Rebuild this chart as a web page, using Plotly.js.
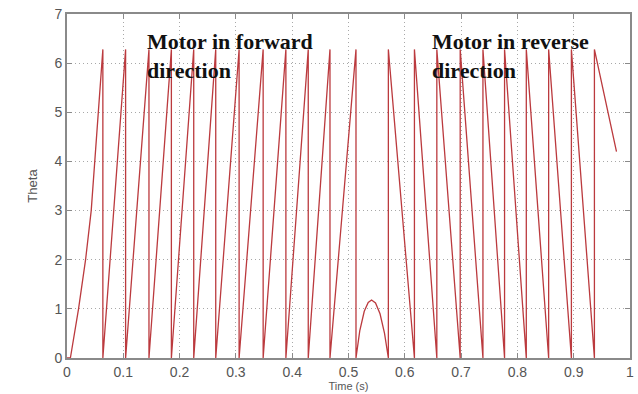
<!DOCTYPE html>
<html>
<head>
<meta charset="utf-8">
<script src="https://cdn.plot.ly/plotly-3.0.1.min.js"></script>
<style>html,body{margin:0;padding:0;background:#fff;}#chart{width:638px;height:394px;}</style>
</head>
<body>
<div id="chart"></div>
<script>
// Time (s) and rotor angle Theta (rad)
var timeS = [
  0, 0.006, 0.0205, 0.033, 0.043, 0.0637, 0.0637,
  0.1041, 0.1041,
  0.1456, 0.1456,
  0.1854, 0.1854,
  0.2251, 0.2251,
  0.2642, 0.2642,
  0.3057, 0.3057,
  0.3484, 0.3484,
  0.3888, 0.3888,
  0.4285, 0.4285,
  0.4671, 0.4671,
  0.5133, 0.5133,
  0.520, 0.528, 0.535, 0.541, 0.548, 0.556, 0.564, 0.5708,
  0.5708, 0.6171,
  0.6171, 0.6569,
  0.6569, 0.6984,
  0.6984, 0.7388,
  0.7388, 0.7772,
  0.7772, 0.8158,
  0.8158, 0.8555,
  0.8555, 0.8959,
  0.8959, 0.9368,
  0.9368, 0.9760,
  0.9760, 0.9885
];
var theta = [
  0, 0, 1, 2, 3, 6.28, 0,
  6.28, 0,
  6.28, 0,
  6.28, 0,
  6.28, 0,
  6.28, 0,
  6.28, 0,
  6.28, 0,
  6.28, 0,
  6.28, 0,
  6.28, 0,
  6.28, 0,
  0.55, 0.95, 1.13, 1.18, 1.12, 0.9, 0.5, 0,
  6.28, 0,
  6.28, 0,
  6.28, 0,
  6.28, 0,
  6.28, 0,
  6.28, 0,
  6.28, 0,
  6.28, 0,
  6.28, 0,
  6.28, 4.2
];
var xTicks = [0, 0.1, 0.2, 0.3, 0.4, 0.5, 0.6, 0.7, 0.8, 0.9, 1];
var xTickText = ['0', '0.1', '0.2', '0.3', '0.4', '0.5', '0.6', '0.7', '0.8', '0.9', '1'];
var yTicks = [0, 1, 2, 3, 4, 5, 6, 7];
var labels = ['Motor in forward<br>direction', 'Motor in reverse<br>direction'];
var labelX = [0.139, 0.644];

var axisFont = {family: 'Liberation Sans, Arial, sans-serif', size: 14, color: '#555'};

var layout = {
  width: 638, height: 394,
  margin: {l: 67, r: 8, t: 14, b: 36},
  paper_bgcolor: '#fff', plot_bgcolor: '#fff',
  showlegend: false,
  xaxis: {
    range: [0, 1], tickvals: xTicks, ticktext: xTickText,
    showgrid: true, gridcolor: '#a8a8a8', griddash: '1px,3px', gridwidth: 1,
    zeroline: false, showline: true, linecolor: '#8a8a8a', linewidth: 2, mirror: 'ticks',
    ticks: 'inside', ticklen: 5, tickcolor: '#8a8a8a', tickfont: axisFont,
    title: {text: 'Time (s)', font: {family: 'Liberation Sans, Arial, sans-serif', size: 11, color: '#555'}, standoff: 2}
  },
  yaxis: {
    range: [0, 7], tickvals: yTicks,
    showgrid: true, gridcolor: '#a8a8a8', griddash: '1px,3px', gridwidth: 1,
    zeroline: false, showline: true, linecolor: '#8a8a8a', linewidth: 2, mirror: 'ticks',
    ticks: 'inside', ticklen: 5, tickcolor: '#8a8a8a', tickfont: axisFont,
    title: {text: 'Theta', font: {family: 'Liberation Sans Narrow, Liberation Sans, Arial, sans-serif', size: 13, color: '#555'}, standoff: 14}
  },
  annotations: labels.map(function (t, i) {
    return {
      text: t, x: labelX[i], y: 6.74, xref: 'x', yref: 'y',
      xanchor: 'left', yanchor: 'top', align: 'left', showarrow: false,
      font: {family: 'Liberation Serif, Times New Roman, serif', size: 22, color: '#111', weight: 'bold'}
    };
  })
};

Plotly.newPlot('chart', [{
  x: timeS, y: theta, type: 'scatter', mode: 'lines',
  line: {color: '#bb3a3e', width: 1.3}, hoverinfo: 'skip'
}], layout, {displayModeBar: false, staticPlot: true});
</script>
</body>
</html>
